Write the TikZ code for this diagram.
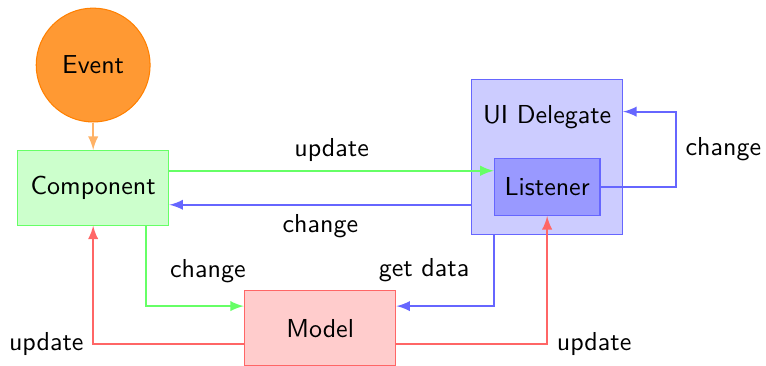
\documentclass[tikz,border=0pt]{standalone}
\usetikzlibrary{positioning}
\begin{document}
\begin{tikzpicture}[
  font=\sffamily,
  box/.style={draw, minimum width=2.05cm, minimum height=1.01cm, inner sep=0pt},
  link/.style={thick, -latex},
]
  \useasboundingbox (0,0) rectangle (10.36,4.95);

  \node[circle, draw=orange, fill=orange!80, minimum size=1.54cm] (event) at (1.26,4.07) {Event};
  \node[box, draw=green!60, fill=green!20] (comp) at (1.26,2.41) {Component};
  \node[box, draw=red!60, fill=red!20] (model) at (4.33,0.51) {Model};
  \node[draw=blue!60, fill=blue!20, minimum width=2.04cm, minimum height=2.1cm] (uid) at (7.40,2.83) {};
  \node (uidtext) at (7.40,3.37) {UI Delegate};
  \node[draw=blue!60, fill=blue!40, minimum width=1.43cm, minimum height=0.77cm] (listener) at (7.40,2.42) {Listener};

  \draw[link, draw=orange!60] (event) -- (comp);

  \draw[link, draw=green!60] ([yshift=2.3mm]comp.east) -- node[above] {update} ([yshift=2.3mm]comp.east -| listener.west);
  \draw[link, draw=blue!60] ([yshift=-2.3mm]comp.east -| uid.west) -- node[below] {change} ([yshift=-2.3mm]comp.east);

  \draw[link, draw=green!60] ([xshift=7.1mm]comp.south) |- node[pos=0.28, right=2mm] {change} ([yshift=3mm]model.west);
  \draw[link, draw=blue!60] (uid.south -| listener.west) |- node[pos=0.25, left=2mm] {get data} ([yshift=3mm]model.east);

  \draw[link, draw=red!60] ([yshift=-2.1mm]model.west) -| node[pos=0.5, left] {update} (comp.south);
  \draw[link, draw=red!60] ([yshift=-2.1mm]model.east) -| node[pos=0.5, right] {update} (listener.south);

  \draw[link, draw=blue!60] (listener.east) -- ++(1.02,0) |- node[pos=0.25, right] {change} ([yshift=6.1mm]uid.east);
\end{tikzpicture}
\end{document}
